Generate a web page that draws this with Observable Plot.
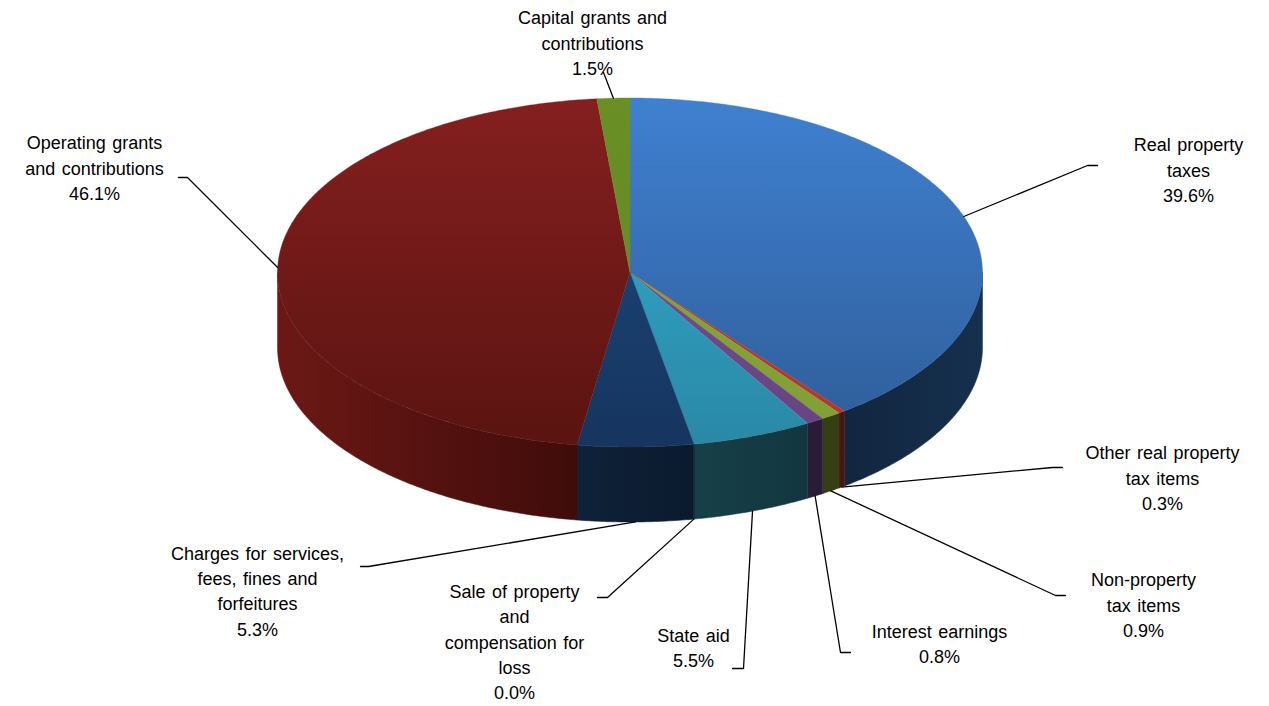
<!DOCTYPE html>
<html>
<head>
<meta charset="utf-8">
<script src="https://cdn.jsdelivr.net/npm/d3@7"></script>
<script src="https://cdn.jsdelivr.net/npm/@observablehq/plot@0.6"></script>
<style>
  html, body { margin: 0; padding: 0; background: #fff; }
  svg { display: block; }
  text { word-spacing: 1.5px; }
</style>
</head>
<body>
<div id="chart"></div>
<script>
// Revenue sources, clockwise from twelve o'clock
const categories = [
  "Real property\ntaxes",
  "Other real property\ntax items",
  "Non-property\ntax items",
  "Interest earnings",
  "State aid",
  "Sale of property\nand\ncompensation for\nloss",
  "Charges for services,\nfees, fines and\nforfeitures",
  "Operating grants\nand contributions",
  "Capital grants and\ncontributions"
];
const shares = [39.6, 0.3, 0.9, 0.8, 5.5, 0.0, 5.3, 46.1, 1.5];

// Top-face gradient stops and side-face gradient stops for each slice
const topColors = [
  ["#3f80d0", "#2f5d98"], ["#c0392f", "#b5352c"], ["#86a338", "#80a035"],
  ["#7d539c", "#664380"], ["#33b0d3", "#2a88a6"], ["#2a88a6", "#2a88a6"],
  ["#1d4a80", "#16355f"], ["#851f1f", "#5a1411"], ["#6a8f24", "#64872a"]
];
const sideColors = [
  ["#12263f", "#15304e"], ["#4a1410", "#4a1410"], ["#353f13", "#353f13"],
  ["#2a1b37", "#2a1b37"], ["#164049", "#123640"], ["#123640", "#123640"],
  ["#0f2239", "#0a1a2e"], ["#6c1815", "#3f0c0a"], ["#333d12", "#333d12"]
];

// Pie geometry in page pixels
const cx = 629.5, cy = 272, rx = 352.5, ry = 174.5, depth = 75;
const ux = (px) => (px - cx) / rx;
const uy = (py) => (cy - py) / ry;
const drop = depth / ry;

// Label block centre, then the elbow and tail of its leader line
const labelLayout = [
  {tx: 1188, ty: 168, elbow: [1087, 165], tail: [1097, 165]},
  {tx: 1162, ty: 476, elbow: [1052, 467], tail: [1062, 467]},
  {tx: 1143, ty: 603, elbow: [1055, 595], tail: [1065, 595]},
  {tx: 939,  ty: 642, elbow: [840, 652],  tail: [850, 652]},
  {tx: 693,  ty: 646, elbow: [743, 668],  tail: [732, 668]},
  {tx: 514,  ty: 640, elbow: [607, 597],  tail: [597, 597]},
  {tx: 257,  ty: 589, elbow: [368, 566],  tail: [360, 566]},
  {tx: 94,   ty: 166, elbow: [187, 177],  tail: [178, 177]},
  {tx: 592,  ty: 41,  elbow: [603, 72],   tail: [603, 72]}
];

const cumulative = d3.cumsum(shares);
const toAngle = (s) => (s / 100) * 2 * Math.PI;
const slices = shares.map((share, i) => ({
  i, share,
  a0: toAngle(cumulative[i] - share),
  a1: toAngle(cumulative[i])
}));
const rim = (a, dy = 0) => ({x: Math.sin(a), y: Math.cos(a) - dy});
const arc = (a0, a1, dy = 0) => {
  const n = Math.max(2, Math.ceil((a1 - a0) / (Math.PI / 360)));
  return d3.range(n + 1).map((k) => rim(a0 + ((a1 - a0) * k) / n, dy));
};

const topFace = (s) => [{x: 0, y: 0}, ...arc(s.a0, s.a1)];
const sideFace = (s) => {
  const a0 = Math.max(s.a0, Math.PI / 2);
  const a1 = Math.min(s.a1, (3 * Math.PI) / 2);
  if (a1 <= a0) return null;
  return [...arc(a0, a1), ...arc(a0, a1, drop).reverse()];
};

// Leader lines start at the middle of the slice's outer edge
const leaders = slices.flatMap((s) => {
  const mid = (s.a0 + s.a1) / 2;
  const front = mid > Math.PI / 2 && mid < (3 * Math.PI) / 2;
  const start = rim(mid, front ? drop : 0);
  const {elbow, tail} = labelLayout[s.i];
  return [
    {z: s.i, ...start},
    {z: s.i, x: ux(elbow[0]), y: uy(elbow[1])},
    {z: s.i, x: ux(tail[0]), y: uy(tail[1])}
  ];
});

const labels = slices.map((s) => ({
  text: `${categories[s.i]}\n${s.share.toFixed(1)}%`,
  x: ux(labelLayout[s.i].tx),
  y: uy(labelLayout[s.i].ty)
}));

// Gradients live in user space so shading runs across the whole pie
const gradients = () => {
  const svgNS = "http://www.w3.org/2000/svg";
  const defs = document.createElementNS(svgNS, "defs");
  const add = (id, coords, colors) => {
    const g = document.createElementNS(svgNS, "linearGradient");
    g.setAttribute("id", id);
    g.setAttribute("gradientUnits", "userSpaceOnUse");
    Object.entries(coords).forEach(([k, v]) => g.setAttribute(k, v));
    colors.forEach((c, j) => {
      const stop = document.createElementNS(svgNS, "stop");
      stop.setAttribute("offset", j);
      stop.setAttribute("stop-color", c);
      defs;
      g.appendChild(stop);
    });
    defs.appendChild(g);
  };
  slices.forEach((s) => {
    add(`top-${s.i}`, {x1: 0, x2: 0, y1: cy - ry, y2: cy + ry}, topColors[s.i]);
    const xs = arc(Math.max(s.a0, Math.PI / 2), Math.max(Math.min(s.a1, 3 * Math.PI / 2), Math.PI / 2)).map((p) => cx + p.x * rx);
    add(`side-${s.i}`, {x1: d3.min(xs), x2: d3.max(xs) + 1, y1: 0, y2: 0},
      s.i === 7 ? sideColors[s.i] : sideColors[s.i].slice().reverse().reverse());
  });
  return defs;
};

const visible = slices.filter((s) => s.share > 0);

const chart = Plot.plot({
  width: 1269,
  height: 706,
  margin: 0,
  style: {background: "#fff", overflow: "visible"},
  x: {domain: [-1, 1], range: [cx - rx, cx + rx], axis: null},
  y: {domain: [1, -1], range: [cy - ry, cy + ry], axis: null},
  marks: [
    gradients,
    // Rim of the pie, front half only
    ...visible.filter(sideFace).map((s) =>
      Plot.line(sideFace(s), {
        x: "x", y: "y", curve: "linear-closed",
        fill: `url(#side-${s.i})`, stroke: `url(#side-${s.i})`, strokeWidth: 0.5
      })
    ),
    // Top face
    ...visible.map((s) =>
      Plot.line(topFace(s), {
        x: "x", y: "y", curve: "linear-closed",
        fill: `url(#top-${s.i})`, stroke: `url(#top-${s.i})`, strokeWidth: 0.4
      })
    ),
    Plot.line(leaders, {x: "x", y: "y", z: "z", stroke: "#000", strokeWidth: 1.3, curve: "linear"}),
    Plot.text(labels, {
      x: "x", y: "y", text: "text",
      fontFamily: "Liberation Sans, Arial, sans-serif",
      fontSize: 18, lineHeight: 1.41, fill: "#000",
      textAnchor: "middle", lineAnchor: "middle"
    })
  ]
});
document.getElementById("chart").appendChild(chart);
</script>
</body>
</html>
